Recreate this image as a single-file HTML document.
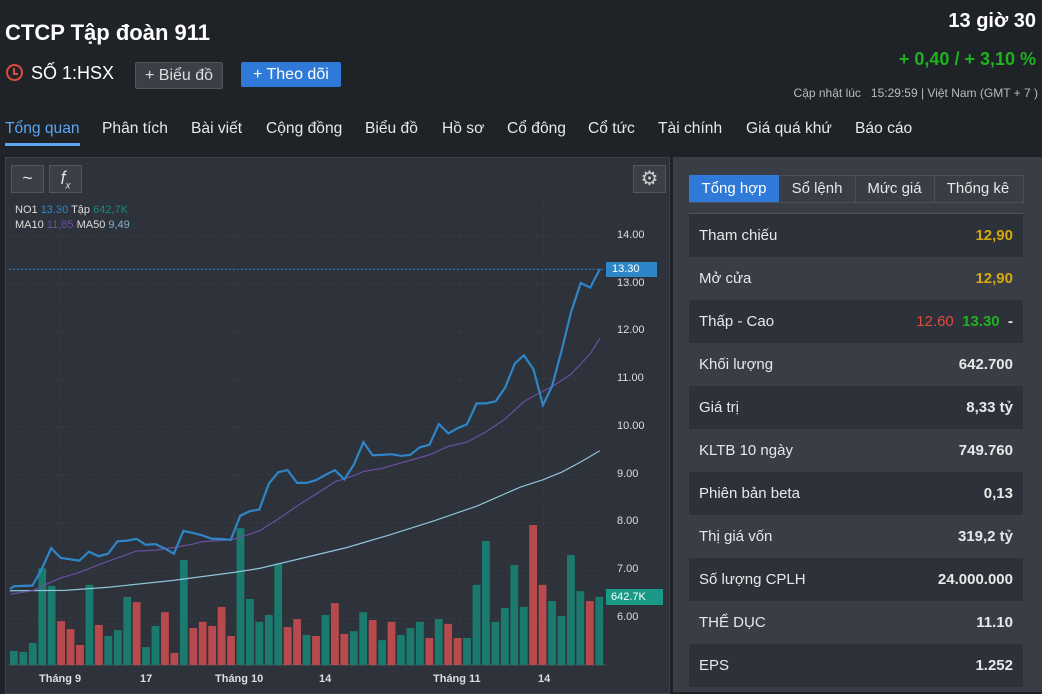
<!DOCTYPE html>
<html><head><meta charset="utf-8"><style>
body{margin:0;width:1042px;height:692px;background:#1f2227;font-family:"Liberation Sans",sans-serif;color:#e8e8e8;position:relative;overflow:hidden}
.a{position:absolute;white-space:nowrap}
.btn{position:absolute;border-radius:2px;font-size:16px;padding:0 9px;height:25px;line-height:25px}
.row{position:absolute;left:689px;width:334px;height:43px;font-size:15px;line-height:43px}
.row span{position:absolute;left:10px}
.row b{position:absolute;right:10px;font-weight:bold}
.n{position:absolute;top:120px;font-size:15.6px}
</style></head><body>
<div class="a" style="left:5px;top:20px;font-size:22px;font-weight:bold;color:#fff">CTCP Tập đoàn 911</div>
<div class="a" style="right:6px;top:10px;font-size:20px;font-weight:bold;color:#fff">13 giờ 30</div>
<div class="a" style="right:6px;top:49px;font-size:18px;font-weight:bold;color:#1db31d">+ 0,40 / + 3,10 %</div>
<div class="a" style="right:4px;top:86px;font-size:12px;color:#bbb">Cập nhật lúc &nbsp;&nbsp;15:29:59 | Việt Nam (GMT + 7 )</div>
<div class="a" style="left:6px;top:64px;width:13px;height:13px;border:2px solid #e04a3d;border-radius:50%"></div>
<div class="a" style="left:13px;top:68px;width:1.5px;height:6px;background:#e04a3d"></div>
<div class="a" style="left:13px;top:73px;width:5px;height:1.5px;background:#e04a3d"></div>
<div class="a" style="left:31px;top:63px;font-size:18px;color:#fff">SỐ 1:HSX</div>
<div class="btn" style="left:135px;top:62px;background:#3a3f48;border:1px solid #555;color:#ddd">+ Biểu đồ</div>
<div class="btn" style="left:241px;top:62px;background:#2f7ad8;color:#fff;padding:0 12px">+ Theo dõi</div>
<div class="n" style="left:5px;color:#5aa7f0">Tổng quan</div>
<div class="a" style="left:5px;top:143px;width:75px;height:3px;background:#5aa7f0"></div>
<div class="n" style="left:102px">Phân tích</div>
<div class="n" style="left:191px">Bài viết</div>
<div class="n" style="left:266px">Cộng đồng</div>
<div class="n" style="left:365px">Biểu đồ</div>
<div class="n" style="left:442px">Hồ sơ</div>
<div class="n" style="left:507px">Cổ đông</div>
<div class="n" style="left:588px">Cổ tức</div>
<div class="n" style="left:658px">Tài chính</div>
<div class="n" style="left:746px">Giá quá khứ</div>
<div class="n" style="left:855px">Báo cáo</div>

<div class="a" style="left:5px;top:157px;width:663px;height:535px;background:#2e323a;border:1px solid #3c414a"></div>
<div class="a" style="left:11px;top:165px;width:31px;height:26px;background:#3a3f48;border:1px solid #555;color:#ddd;text-align:center;font-size:18px;line-height:24px">~</div>
<div class="a" style="left:49px;top:165px;width:31px;height:26px;background:#3a3f48;border:1px solid #555;color:#ddd;text-align:center;font-size:18px;line-height:24px;font-style:italic">f<sub style="font-size:10px">x</sub></div>
<div class="a" style="left:633px;top:165px;width:31px;height:26px;background:#3a3f48;border:1px solid #555;color:#ccc;text-align:center;font-size:20px;line-height:26px">⚙</div>
<div class="a" style="left:15px;top:204px;font-size:11px;color:#ddd">NO1 <span style="color:#2e86c8">13.30</span> Tập <span style="color:#1a8a7a">642,7K</span></div>
<div class="a" style="left:15px;top:219px;font-size:11px;color:#ddd">MA10 <span style="color:#6b4fa0">11,85</span> MA50 <span style="color:#7fb3d0">9,49</span></div>

<svg class="a" style="left:0;top:150px" width="680" height="542" viewBox="0 0 1568 1568" preserveAspectRatio="none">
<path vector-effect="non-scaling-stroke" stroke="#393e47" stroke-dasharray="3 3" fill="none" d="M140 140V1490M540 140V1490M1058 140V1490M1253 140V1490M20 247H1395M20 386H1395M20 524H1395M20 663H1395M20 801H1395M20 940H1395M20 1078H1395M20 1216H1395M20 1355H1395"/>
<path vector-effect="non-scaling-stroke" d="M20 1490H1400" stroke="#4a4f58" fill="none"/>
<g id="bars"></g>
<path vector-effect="non-scaling-stroke" stroke="#2e86c8" stroke-width="1" stroke-dasharray="2 2" fill="none" d="M20 345H1395"/>
<polyline vector-effect="non-scaling-stroke" fill="none" stroke="#8fc5dc" stroke-width="1.2" points="23,1275 150,1274 250,1265 400,1245 540,1222 600,1210 700,1180 800,1150 900,1113 1000,1073 1100,1030 1200,975 1250,955 1295,932 1340,902 1383,870"/>
<polyline vector-effect="non-scaling-stroke" fill="none" stroke="#6b4fa0" stroke-width="1.2" points="23,1285 75,1275 97,1262 140,1238 183,1222 227,1200 271,1180 315,1160 358,1158 401,1150 445,1140 467,1133 532,1128 554,1120 598,1102 642,1067 685,1030 729,995 772,960 816,942 838,930 881,921 925,905 990,882 1034,857 1077,845 1121,815 1165,778 1208,728 1230,712 1273,685 1317,648 1361,590 1383,545"/>
<polyline vector-effect="non-scaling-stroke" fill="none" stroke="#2e86c8" stroke-width="2.2" points="23,1270 32,1262 75,1260 97,1210 118,1152 140,1180 183,1188 205,1162 227,1175 249,1168 271,1132 293,1130 315,1125 336,1142 358,1140 380,1153 401,1168 423,1102 445,1108 467,1115 489,1125 511,1125 532,1128 554,1058 576,1045 598,1040 620,965 642,932 663,926 685,963 707,963 729,955 750,940 772,926 794,953 816,910 838,845 859,883 881,882 903,880 925,885 946,882 968,860 990,853 1012,793 1034,820 1055,805 1077,793 1099,733 1121,733 1143,727 1165,687 1187,618 1208,594 1230,634 1252,738 1273,683 1295,580 1317,468 1339,385 1361,398 1383,345"/>
</svg>
<script>
var d=[[1449,'g'],[1452,'g'],[1426,'g'],[1210,'g'],[1261,'g'],[1363,'r'],[1386,'r'],[1432,'r'],[1258,'g'],[1374,'r'],[1406,'g'],[1389,'g'],[1293,'g'],[1308,'r'],[1438,'g'],[1377,'g'],[1337,'r'],[1455,'r'],[1186,'g'],[1383,'r'],[1365,'r'],[1377,'r'],[1322,'r'],[1406,'r'],[1094,'g'],[1299,'g'],[1365,'g'],[1345,'g'],[1197,'g'],[1380,'r'],[1357,'r'],[1403,'g'],[1406,'r'],[1345,'g'],[1311,'r'],[1400,'r'],[1392,'g'],[1337,'g'],[1360,'r'],[1418,'g'],[1365,'r'],[1403,'g'],[1383,'g'],[1365,'g'],[1412,'r'],[1357,'g'],[1371,'r'],[1412,'r'],[1412,'g'],[1258,'g'],[1131,'g'],[1365,'g'],[1325,'g'],[1201,'g'],[1322,'g'],[1085,'r'],[1258,'r'],[1305,'g'],[1348,'g'],[1172,'g'],[1276,'g'],[1305,'r'],[1293,'g']];
var s='';d.forEach(function(b,i){var x=32+i*21.77;s+='<rect x="'+(x-9)+'" y="'+b[0]+'" width="18" height="'+(1490-b[0])+'" fill="'+(b[1]=='g'?'#1a7a6e':'#b84a4d')+'"/>';});
document.getElementById('bars').innerHTML=s;
</script>
<div class="a" style="left:617px;top:229px;font-size:11px;color:#ddd">14.00</div>
<div class="a" style="left:617px;top:277px;font-size:11px;color:#ddd">13.00</div>
<div class="a" style="left:617px;top:324px;font-size:11px;color:#ddd">12.00</div>
<div class="a" style="left:617px;top:372px;font-size:11px;color:#ddd">11.00</div>
<div class="a" style="left:617px;top:420px;font-size:11px;color:#ddd">10.00</div>
<div class="a" style="left:617px;top:468px;font-size:11px;color:#ddd">9.00</div>
<div class="a" style="left:617px;top:515px;font-size:11px;color:#ddd">8.00</div>
<div class="a" style="left:617px;top:563px;font-size:11px;color:#ddd">7.00</div>
<div class="a" style="left:617px;top:611px;font-size:11px;color:#ddd">6.00</div>
<div class="a" style="left:606px;top:262px;width:45px;height:15px;background:#2e86c8;font-size:11px;color:#fff;line-height:15px;padding-left:6px">13.30</div>
<div class="a" style="left:606px;top:589px;width:52px;height:16px;background:#1a9a86;font-size:11px;color:#fff;line-height:16px;padding-left:5px">642.7K</div>
<div class="a" style="left:39px;top:673px;font-size:11px;font-weight:bold;color:#ddd">Tháng 9</div>
<div class="a" style="left:140px;top:673px;font-size:11px;font-weight:bold;color:#ddd">17</div>
<div class="a" style="left:215px;top:673px;font-size:11px;font-weight:bold;color:#ddd">Tháng 10</div>
<div class="a" style="left:319px;top:673px;font-size:11px;font-weight:bold;color:#ddd">14</div>
<div class="a" style="left:433px;top:673px;font-size:11px;font-weight:bold;color:#ddd">Tháng 11</div>
<div class="a" style="left:538px;top:673px;font-size:11px;font-weight:bold;color:#ddd">14</div>

<div class="a" style="left:673px;top:157px;width:369px;height:535px;background:#383d46"></div>
<div class="a" style="left:689px;top:175px;width:333px;height:26px;border:1px solid #4a505a;background:#383d46"></div>
<div class="a" style="left:689px;top:175px;width:90px;height:27px;background:#2f7ad8;color:#fff;font-size:15px;line-height:27px;text-align:center">Tổng hợp</div>
<div class="a" style="left:779px;top:176px;width:76px;height:26px;border-right:1px solid #4a505a;font-size:15px;line-height:26px;text-align:center">Sổ lệnh</div>
<div class="a" style="left:855px;top:176px;width:79px;height:26px;border-right:1px solid #4a505a;font-size:15px;line-height:26px;text-align:center">Mức giá</div>
<div class="a" style="left:934px;top:176px;width:88px;height:26px;font-size:15px;line-height:26px;text-align:center">Thống kê</div>
<div class="a" style="left:689px;top:213px;width:334px;height:1px;background:#555"></div>
<div class="row" style="top:214px;background:#2d3139"><span>Tham chiếu</span><b style="color:#d4a90c">12,90</b></div>
<div class="row" style="top:257px"><span>Mở cửa</span><b style="color:#d4a90c">12,90</b></div>
<div class="row" style="top:300px;background:#2d3139"><span>Thấp - Cao</span><b><span style="position:static;color:#e04a3d;font-weight:normal">12.60</span>&nbsp;&nbsp;<span style="position:static;color:#1db31d">13.30</span>&nbsp;&nbsp;-</b></div>
<div class="row" style="top:343px"><span>Khối lượng</span><b>642.700</b></div>
<div class="row" style="top:386px;background:#2d3139"><span>Giá trị</span><b>8,33 tỷ</b></div>
<div class="row" style="top:429px"><span>KLTB 10 ngày</span><b>749.760</b></div>
<div class="row" style="top:472px;background:#2d3139"><span>Phiên bản beta</span><b>0,13</b></div>
<div class="row" style="top:515px"><span>Thị giá vốn</span><b>319,2 tỷ</b></div>
<div class="row" style="top:558px;background:#2d3139"><span>Số lượng CPLH</span><b>24.000.000</b></div>
<div class="row" style="top:601px"><span>THỂ DỤC</span><b>11.10</b></div>
<div class="row" style="top:644px;background:#2d3139"><span>EPS</span><b>1.252</b></div>
</body></html>
